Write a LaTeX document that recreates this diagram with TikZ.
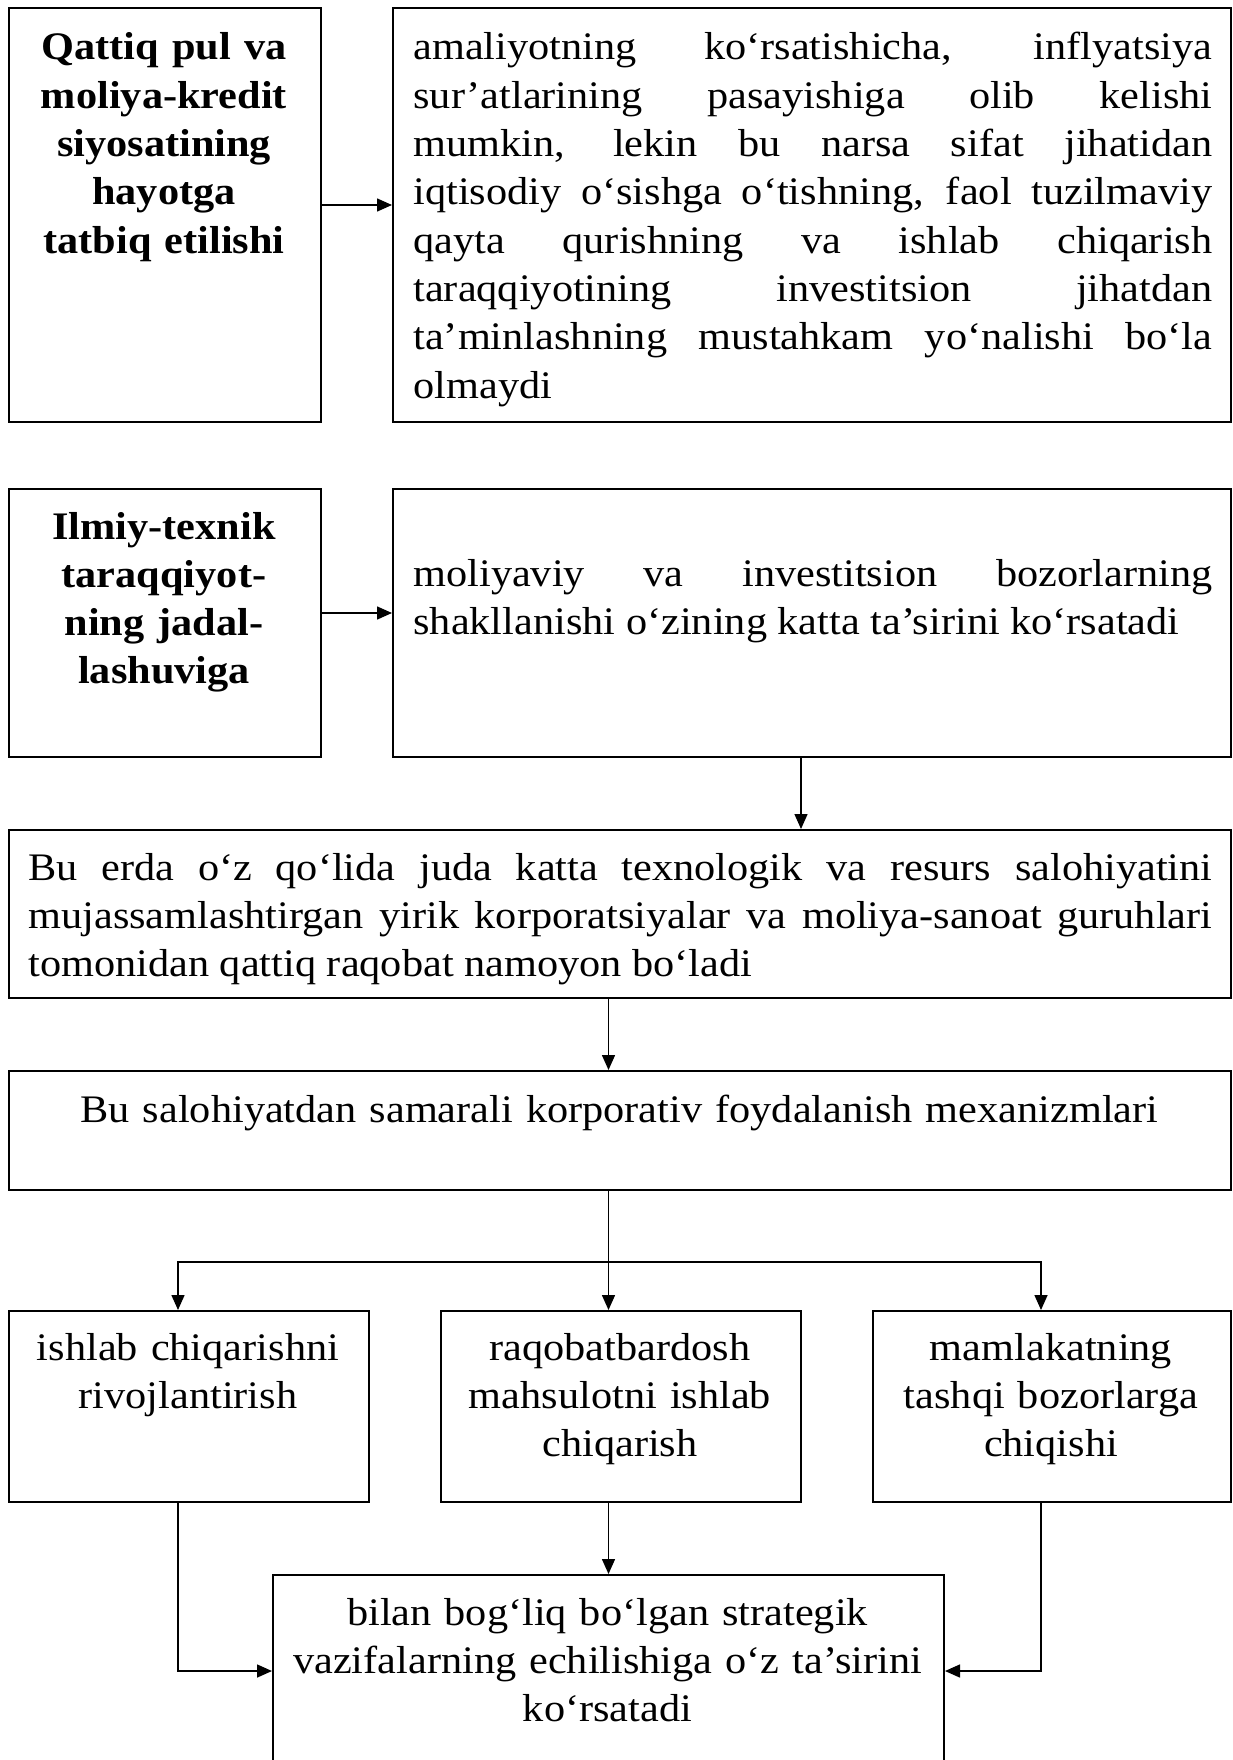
\documentclass[tikz,border=0pt]{standalone}
\usepackage{fontspec}
\setmainfont{Liberation Serif}[FakeStretch=1.085]
\usepackage{tikz}
\usetikzlibrary{arrows.meta,positioning,calc}

\begin{document}
\begin{tikzpicture}[x=0.5pt, y=-0.5pt,
  every node/.style={font=\fontsize{19.5}{24.15}\selectfont},
  box/.style={draw, line width=1pt, inner sep=0pt, anchor=north west},
  txt/.style={inner sep=0pt, anchor=base, align=center},
  jtxt/.style={inner sep=0pt, anchor=base west, align=justify},
  bold/.style={font=\fontsize{19.5}{24.15}\selectfont\bfseries},
  arr/.style={-{Triangle[length=7.5pt,width=6.5pt]}, line width=0.75pt}]
  \useasboundingbox (0,0) rectangle (1232,1760);

  % upper rows
  \node[box, minimum width=156pt, minimum height=207pt] (b1) at (8,7) {};
  \node[box, minimum width=419pt, minimum height=207pt] (b2) at (392,7) {};
  \node[box, minimum width=156pt, minimum height=134pt] (b3) at (8,488) {};
  \node[box, minimum width=419pt, minimum height=134pt] (b4) at (392,488) {};
  \node[box, minimum width=611pt, minimum height=84pt] (b5) at (8,829) {};
  \node[box, minimum width=611pt, minimum height=59.5pt] (b6) at (8,1070) {};
  % three results and the last box
  \foreach \n/\x/\w in {b7/8/180, b8/440/180, b9/872/179}{
    \node[box, minimum width=\w pt, minimum height=95.5pt] (\n) at (\x,1310) {};
  }
  \node[box, minimum width=335.5pt, minimum height=96pt] (b10) at (272,1574) {};

  \node[txt, bold, text width=152pt] (t1) at (164,60)
    {Qattiq pul va\\moliya-kredit\\siyosatining\\hayotga\\tatbiq etilishi};
  \node[jtxt, text width=399.5pt] (t2) at (413,60)
    {amaliyotning ko‘rsatishicha, inflyatsiya\linebreak
     sur’atlarining pasayishiga olib kelishi\linebreak
     mumkin, lekin bu narsa sifat jihatidan\linebreak
     iqtisodiy o‘sishga o‘tishning, faol tuzilmaviy\linebreak
     qayta qurishning va ishlab chiqarish\linebreak
     taraqqiyotining investitsion jihatdan\linebreak
     ta’minlashning mustahkam yo‘nalishi bo‘la\linebreak
     olmaydi};
  \node[txt, bold, text width=152pt] (t3) at (164,539)
    {Ilmiy-texnik\\taraqqiyot-\\ning jadal-\\lashuviga};
  \node[jtxt, text width=399.5pt] (t4) at (413,586)
    {moliyaviy va investitsion bozorlarning\linebreak
     shakllanishi o‘zining katta ta’sirini ko‘rsatadi};
  \node[jtxt, text width=592pt] (t5) at (28,880)
    {Bu erda o‘z qo‘lida juda katta texnologik va resurs salohiyatini\linebreak
     mujassamlashtirgan yirik korporatsiyalar va moliya-sanoat guruhlari\linebreak
     tomonidan qattiq raqobat namoyon bo‘ladi};
  \node[txt, text width=600pt] (t6) at (619.5,1122)
    {Bu salohiyatdan samarali korporativ foydalanish mexanizmlari};
  \node[txt, text width=174pt] (t7) at (188,1360) {ishlab chiqarishni\\rivojlantirish};
  \node[txt, text width=174pt] (t8) at (620,1360) {raqobatbardosh\\mahsulotni ishlab\\chiqarish};
  \node[txt, text width=174pt] (t9) at (1051,1360) {mamlakatning\\tashqi bozorlarga\\chiqishi};
  \node[txt, text width=330pt] (t10) at (607.5,1625)
    {bilan bog‘liq bo‘lgan strategik\\vazifalarning echilishiga o‘z ta’sirini\\ko‘rsatadi};

  % connectors
  \draw[arr] ([yshift=5pt]b1.east) -- ([yshift=5pt]b2.west);
  \draw[arr] ([yshift=5pt]b3.east) -- ([yshift=5pt]b4.west);
  \draw[arr] ([xshift=-5.5pt]b4.south) -- ([xshift=-5.5pt]b4.south |- b5.north);
  \draw[arr] (b10.north |- b5.south) -- (b10.north |- b6.north);
  \coordinate (fork) at (b10.north |- 0,1262);
  \draw[line width=0.75pt] (b6.south -| fork) -- (fork);
  \draw[arr] (fork) -| ([xshift=-5.5pt]b7.north);
  \draw[arr] (fork) -- (fork |- b8.north);
  \draw[arr] (fork) -| ([xshift=-5.5pt]b9.north);
  \draw[arr] (b10.north |- b8.south) -- (b10.north);
  \draw[arr] ([xshift=-5.5pt]b7.south) |- (b10.west);
  \draw[arr] ([xshift=-5.5pt]b9.south) |- (b10.east);
\end{tikzpicture}
\end{document}
